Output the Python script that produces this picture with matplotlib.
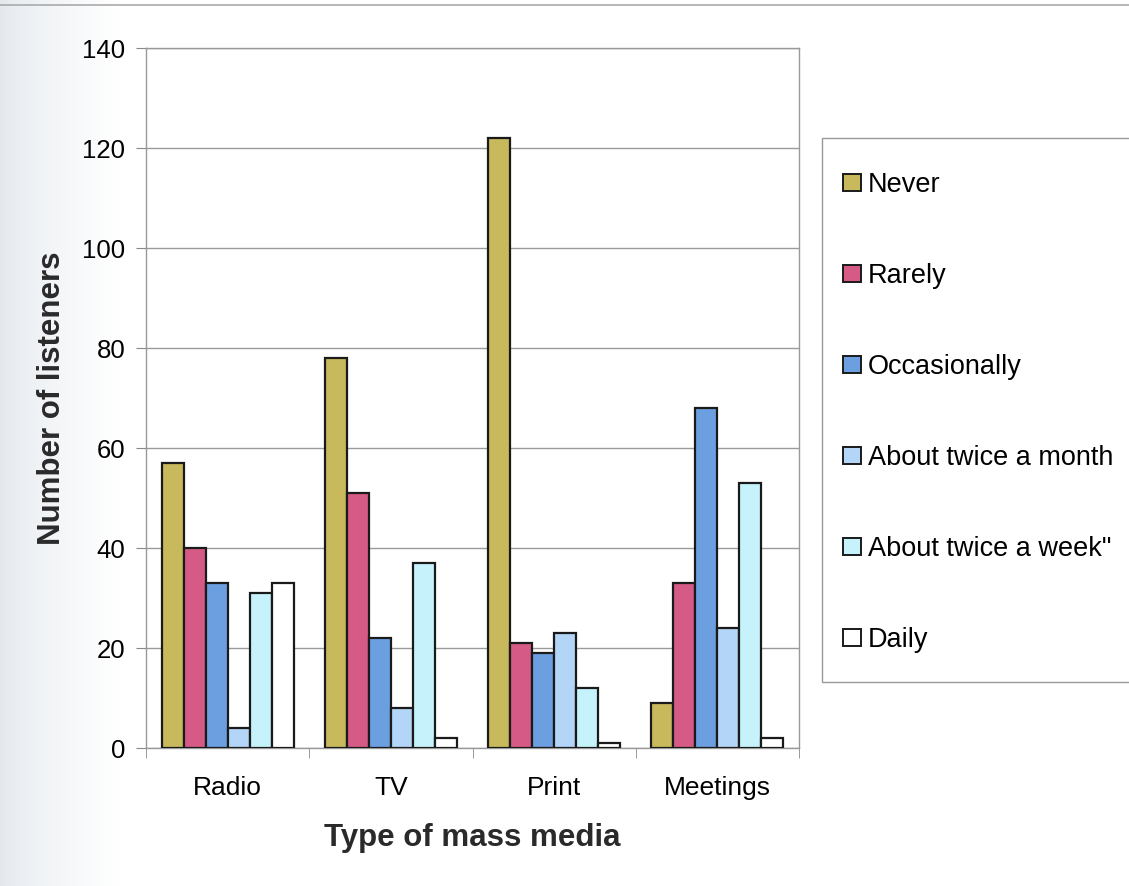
import matplotlib.pyplot as plt
import numpy as np
from matplotlib.lines import Line2D
from matplotlib.patches import Patch, Rectangle

plt.rcParams['font.family'] = ['Liberation Sans', 'DejaVu Sans']

media = ['Radio', 'TV', 'Print', 'Meetings']
freq = ['Never', 'Rarely', 'Occasionally', 'About twice a month',
        'About twice a week"', 'Daily']
never = [57, 78, 122, 9]
rarely = [40, 51, 21, 33]
occasionally = [33, 22, 19, 68]
twice_month = [4, 8, 23, 24]
twice_week = [31, 37, 12, 53]
daily = [33, 2, 1, 2]

series = [never, rarely, occasionally, twice_month, twice_week, daily]
colors = ['#c8b95c', '#d65a86', '#6b9fe0', '#b3d5f7', '#c6f3fb', '#ffffff']

W, H = 1129, 886
fig = plt.figure(figsize=(W / 100, H / 100), dpi=100)

# faint grey shading down the left edge of the page
ramp = np.linspace(0, 1, 120) ** 0.7
shade = np.empty((H, 120, 3))
for k, c0 in enumerate([0.89, 0.91, 0.93]):
    shade[:, :, k] = c0 + (1 - c0) * ramp
fig.figimage(shade, xo=0, yo=0, zorder=-1)
fig.add_artist(Line2D([0, 1], [1 - 5 / H, 1 - 5 / H], color='#aaaaaa',
                      linewidth=1.2, transform=fig.transFigure))

ax = fig.add_axes([146 / W, 1 - 748 / H, 653 / W, 700 / H])

x = np.arange(len(media))
w = 0.135
for i, (vals, c) in enumerate(zip(series, colors)):
    ax.bar(x + (i - 2.5) * w, vals, w, color=c, edgecolor='#1a1a1a',
           linewidth=1.6, zorder=3)

ax.set_xlim(-0.5, 3.5)
ax.set_ylim(0, 140)
ax.set_yticks(range(0, 141, 20))
ax.yaxis.grid(True, color='#9a9a9a', linewidth=1.0, zorder=0)
ax.set_xticks(x)
ax.set_xticklabels(media, fontsize=19)
ax.set_xticks(np.arange(-0.5, 4, 1), minor=True)
ax.tick_params(axis='x', which='major', length=0, pad=20)
ax.tick_params(axis='x', which='minor', length=7, color='#888888')
ax.tick_params(axis='y', length=7, color='#888888', labelsize=18.5, pad=8)
for s in ax.spines.values():
    s.set_color('#999999')
    s.set_linewidth(1.0)

ax.set_xlabel('Type of mass media', fontsize=22.5, fontweight='bold',
              labelpad=17, color='#2a2a2a')
ax.set_ylabel('Number of listeners', fontsize=22.5, fontweight='bold',
              labelpad=11, color='#2a2a2a')

# legend frame runs off the right edge of the page
fig.add_artist(Rectangle((822 / W, 1 - 682 / H), 330 / W, 544 / H,
                         transform=fig.transFigure, facecolor='white',
                         edgecolor='#999999', linewidth=1.0, zorder=1))
handles = [Patch(facecolor=c, edgecolor='#1a1a1a', linewidth=1.4) for c in colors]
leg = fig.legend(handles, freq, loc='upper left',
                 bbox_to_anchor=(843 / W, 1 - 172 / H),
                 fontsize=19.5, frameon=False,
                 handlelength=0.65, handleheight=0.6, handletextpad=0.28,
                 labelspacing=2.4, borderpad=0, borderaxespad=0)
leg.set_zorder(2)

fig.savefig('out.png', dpi=100)
